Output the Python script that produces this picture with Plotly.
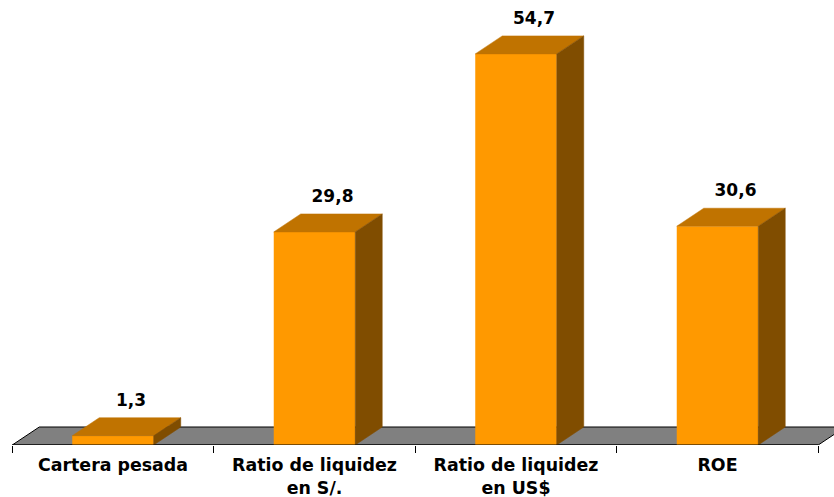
import plotly.graph_objects as go

categories = ["Cartera pesada", "Ratio de liquidez<br>en S/.", "Ratio de liquidez<br>en US$", "ROE"]
values = [1.3, 29.8, 54.7, 30.6]
labels = ["1,3", "29,8", "54,7", "30,6"]
positions = [0, 1, 2, 3]
boundaries = [-0.5, 0.5, 1.5, 2.5, 3.5]

# Chart geometry (pixels), used only to set scales and the oblique depth.
W, H = 834, 497
UNIT_X = 201.5      # px per category
UNIT_Y = 7.15       # px per value unit
ZERO_PX_X = 113.0
ZERO_PX_Y = 445.0
DX = 27 / UNIT_X    # oblique depth, in x units
DY = 18 / UNIT_Y    # oblique depth, in y units
BAR = 81.5 / UNIT_X
LABEL_DX = 18 / UNIT_X
LABEL_GAP = 16 / UNIT_Y

top_x, top_y, side_x, side_y = [], [], [], []
for x, v in zip(positions, values):
    l, r = x - BAR / 2, x + BAR / 2
    top_x += [l, r, r + DX, l + DX, l, None]
    top_y += [v, v, v + DY, v + DY, v, None]
    side_x += [r, r + DX, r + DX, r, r, None]
    side_y += [0, DY, v + DY, v, 0, None]

fig = go.Figure()
fig.add_trace(go.Bar(x=positions, y=values, width=BAR,
                     marker=dict(color="#FF9900", line=dict(width=0)), hoverinfo="skip"))
fig.add_trace(go.Scatter(x=top_x, y=top_y, mode="lines", fill="toself", fillcolor="#C07300",
                         line=dict(color="#C07300", width=0.5), hoverinfo="skip"))
fig.add_trace(go.Scatter(x=side_x, y=side_y, mode="lines", fill="toself", fillcolor="#804D00",
                         line=dict(color="#804D00", width=0.5), hoverinfo="skip"))
fig.add_trace(go.Scatter(x=[boundaries[0], boundaries[-1]], y=[0, 0], mode="lines",
                         line=dict(color="#000000", width=1), hoverinfo="skip"))
fig.add_trace(go.Scatter(x=[p + LABEL_DX for p in positions],
                         y=[v + DY + LABEL_GAP for v in values],
                         mode="text", text=labels, textposition="middle center",
                         textfont=dict(family="DejaVu Sans", size=17, weight="bold", color="#000000"),
                         hoverinfo="skip"))

x0, x1 = boundaries[0], boundaries[-1]
fig.add_shape(type="path", layer="below", xref="x", yref="y",
              path=f"M {x0} 0 L {x1} 0 L {x1 + DX} {DY} L {x0 + DX} {DY} Z",
              fillcolor="#808080", line=dict(color="#000000", width=1))

fig.update_layout(
    width=W, height=H, showlegend=False,
    autosize=False,
    margin=dict(l=0, r=0, t=0, b=H - ZERO_PX_Y, pad=0, autoexpand=False),
    paper_bgcolor="#FFFFFF", plot_bgcolor="#FFFFFF",
    font=dict(family="DejaVu Sans", size=17, color="#000000"),
    xaxis=dict(
        range=[-ZERO_PX_X / UNIT_X, (W - ZERO_PX_X) / UNIT_X],
        automargin=False,
        tickmode="array", tickvals=positions,
        ticktext=categories,
        tickfont=dict(family="DejaVu Sans", size=17.4, weight="bold", color="#000000"),
        ticks="", showgrid=False, zeroline=False, showline=False,
        ticklabelstandoff=8,
        minor=dict(tickmode="array", tickvals=boundaries, ticks="outside", ticklen=7,
                   tickwidth=1, tickcolor="#000000", showgrid=False),
    ),
    yaxis=dict(range=[0, ZERO_PX_Y / UNIT_Y], visible=False, showgrid=False, zeroline=False,
               automargin=False),
)

fig.write_html("out.html", config={"displayModeBar": False},
               post_script="document.body.style.margin='0';document.documentElement.style.overflow='hidden';")
